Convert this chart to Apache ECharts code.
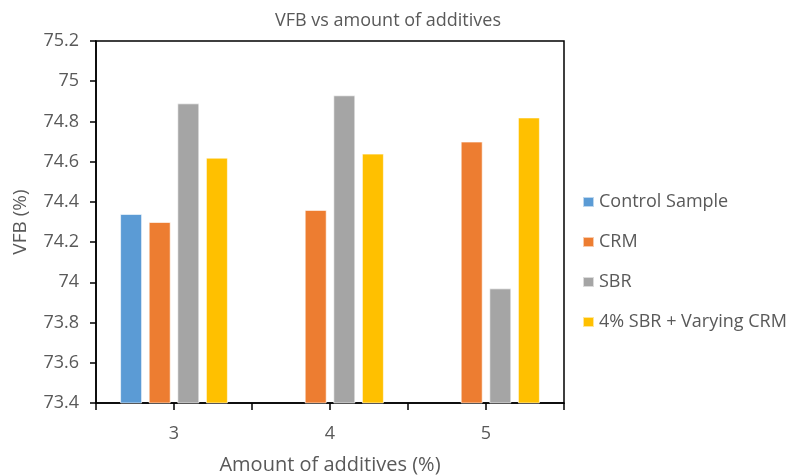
<!DOCTYPE html>
<html>
<head>
<meta charset="utf-8">
<script src="https://cdn.jsdelivr.net/npm/echarts@6/dist/echarts.min.js"></script>
<style>
  html, body { margin: 0; padding: 0; background: #fff; }
  #chart { width: 793px; height: 475px; }
</style>
</head>
<body>
<div id="chart"></div>
<script>
// Amount of additives (%) on the category axis
const categories = ['3', '4', '5'];

// VFB (%) for each mix
const controlSample = [74.34, null, null];
const crm = [74.30, 74.36, 74.70];
const sbr = [74.89, 74.93, 73.97];
const sbrVaryingCrm = [74.62, 74.64, 74.82];

const seriesNames = ['Control Sample', 'CRM', 'SBR', '4% SBR + Varying CRM'];
const seriesColors = ['#5B9BD5', '#ED7D31', '#A5A5A5', '#FFC000'];
const seriesValues = [controlSample, crm, sbr, sbrVaryingCrm];

const FONT = 'Open Sans, Noto Sans, sans-serif';
const TEXT = '#595959';

const chart = echarts.init(document.getElementById('chart'), null, { renderer: 'canvas' });

chart.setOption({
  backgroundColor: '#ffffff',
  animation: false,
  title: {
    text: 'VFB vs amount of additives',
    left: 383,
    textAlign: 'center',
    top: 7,
    textStyle: { fontFamily: FONT, fontSize: 18, fontWeight: 'normal', color: TEXT }
  },
  legend: {
    orient: 'vertical',
    left: 582,
    top: 193,
    padding: 0,
    itemWidth: 11,
    itemHeight: 10,
    itemGap: 22,
    icon: 'rect',
    data: seriesNames,
    textStyle: { fontFamily: FONT, fontSize: 18, color: TEXT, padding: [0, 0, 0, 0] }
  },
  grid: {
    left: 96,
    top: 41,
    right: 229,
    bottom: 72,
    outerBoundsMode: 'none',
    containLabel: false,
    show: true,
    borderColor: '#000',
    borderWidth: 1.5
  },
  xAxis: [
    {
      type: 'category',
      data: categories,
      name: 'Amount of additives (%)',
      nameLocation: 'middle',
      nameGap: 52,
      nameTextStyle: { fontFamily: FONT, fontSize: 20, color: TEXT },
      axisLine: { lineStyle: { color: '#000', width: 1.5 } },
      axisTick: { show: false },
      axisLabel: { fontFamily: FONT, fontSize: 18, color: TEXT, margin: 22 }
    },
    {
      // finer tick marks along the bottom edge
      type: 'category',
      data: ['', '', '', '', '', ''],
      position: 'bottom',
      axisLine: { show: false },
      axisTick: { show: true, length: 7, lineStyle: { color: '#000', width: 1.5 } },
      axisLabel: { show: false },
      splitLine: { show: false }
    }
  ],
  yAxis: {
    type: 'value',
    min: 73.4,
    max: 75.2,
    interval: 0.2,
    name: 'VFB (%)',
    nameLocation: 'middle',
    nameGap: 66,
    nameTextStyle: { fontFamily: FONT, fontSize: 19, color: TEXT },
    axisLine: { show: true, lineStyle: { color: '#000', width: 1.5 } },
    axisTick: { show: true, length: 6, lineStyle: { color: '#000', width: 1.5 } },
    splitLine: { show: false },
    axisLabel: {
      fontFamily: FONT,
      fontSize: 18,
      color: TEXT,
      margin: 17,
      formatter: v => String(parseFloat(v.toFixed(1)))
    }
  },
  series: seriesNames.map((name, i) => ({
    name: name,
    type: 'bar',
    xAxisIndex: 0,
    data: seriesValues[i],
    barWidth: 22,
    barGap: '30%',
    itemStyle: { color: seriesColors[i], borderColor: 'rgba(255,255,255,0.6)', borderWidth: 1 }
  }))
});
</script>
</body>
</html>
